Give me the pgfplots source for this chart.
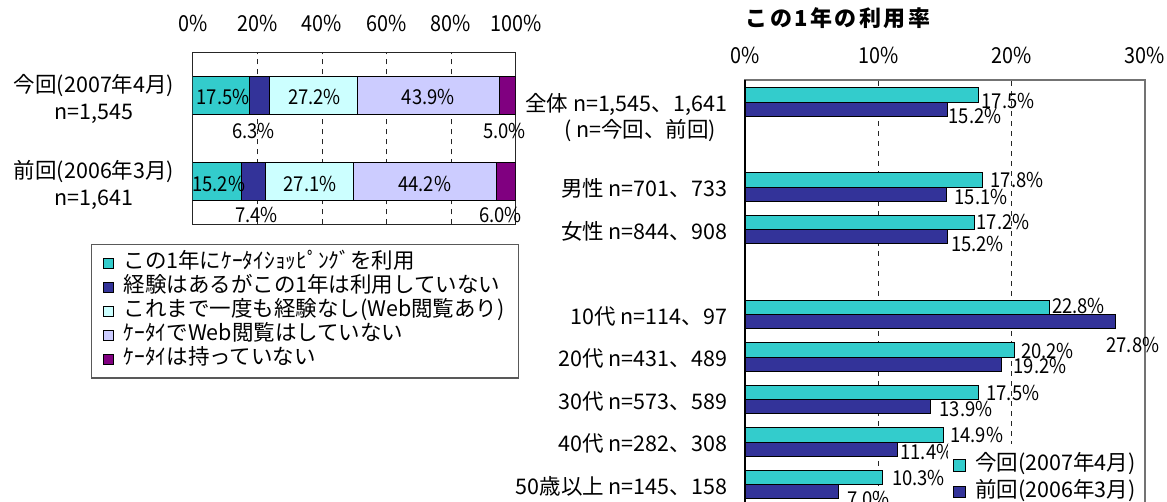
\documentclass[border=0pt]{standalone}
\usepackage{fontspec}
\setmainfont{Noto Sans CJK JP}
\newfontfamily\narrow{Noto Sans CJK JP}[FakeStretch=0.9]
\usepackage{pgfplots}
\pgfplotsset{compat=1.18}
\usepackage{pgfplotstable}
\pgfkeys{/pgf/number format/assume math mode=true}

\definecolor{cA}{HTML}{33CCCC}
\definecolor{cB}{HTML}{333399}
\definecolor{cC}{HTML}{CCFFFF}
\definecolor{cD}{HTML}{CCCCFF}
\definecolor{cE}{HTML}{800080}

\newcommand\mainfont{\fontsize{21.5}{27}\selectfont}
\newcommand\tickfont{\narrow\fontsize{22}{26}\selectfont}
\newcommand\lblfont{\narrow\fontsize{20.5}{24}\selectfont}

% left stacked chart (y=1: 2007, y=0: 2006); dx,dy = label offsets (pt) from segment middle
\pgfplotstableread{
y v dx dy
1 17.5 2 -2
0 15.2 1.5 -3
}\sA
\pgfplotstableread{
y v dx dy
1 6.3 -6 -36
0 7.4 2.7 -33.5
}\sB
\pgfplotstableread{
y v dx dy
1 27.2 1 -2
0 27.1 0.7 -3
}\sC
\pgfplotstableread{
y v dx dy
1 43.9 0 -2
0 44.2 0 -3
}\sD
\pgfplotstableread{
y v dx dy
1 5.0 -3 -36
0 6.0 -5 -33.5
}\sE

% right chart; dx,dy = label offsets (pt) from bar end
\pgfplotstableread{
y v dx dy
9 17.5 3 -6
7 17.8 8 0
6 17.2 2 0
4 22.8 2.7 1
3 20.2 6.4 -1
2 17.5 7.7 -1
1 14.9 6.3 0
0 10.3 9.4 -1
}\now
\pgfplotstableread{
y v dx dy
9 15.2 0.5 -6.5
7 15.1 8 -3
6 15.2 3 -7
4 27.8 -9.6 -23
3 19.2 12.3 -1.7
2 13.9 9 -2.5
1 11.4 3 -3
0 7.0 8.4 -7
}\prev

\pgfplotsset{
  lbl/.style={
    visualization depends on={\thisrow{dx}\as\dx},
    visualization depends on={\thisrow{dy}\as\dy},
    point meta=explicit,
    nodes near coords={\pgfmathprintnumber[fixed,fixed zerofill,precision=1,assume math mode=true]{\pgfplotspointmeta}\%},
    every node near coord/.append style={anchor=#1, inner sep=0pt, xshift=\dx pt, yshift=\dy pt, font=\lblfont, text=black},
  },
  sq/.style={legend image code/.code={\draw[##1,draw=black,line width=0.8pt] (0pt,-#1/2) rectangle (#1,#1/2);}},
}

\begin{document}
\begin{tikzpicture}[font=\mainfont]
\useasboundingbox (0,0) rectangle (1167pt,-501pt);

\begin{axis}[
  at={(192.7pt,-52.3pt)}, anchor=north west,
  scale only axis, width=323pt, height=172pt,
  xbar stacked, bar width=0.44,
  xmin=0, xmax=100, ymin=-0.5, ymax=1.5,
  xtick={0,20,40,60,80,100}, xticklabels={0\%,20\%,40\%,60\%,80\%,100\%},
  xticklabel pos=upper,
  xticklabel style={anchor=base, yshift=20.6pt, font=\tickfont},
  ytick={0,1},
  yticklabels={{前回(2006年3月)\\n=1,641},{今回(2007年4月)\\n=1,545}},
  yticklabel style={align=center, anchor=east, xshift=-15pt, yshift=-4pt, font=\mainfont},
  major tick length=0pt,
  xmajorgrids, grid style={black!85, dash pattern=on 5pt off 5pt, line width=0.8pt},
  axis line style={black!85, line width=1.2pt},
  legend style={at={(axis cs:-31.6,-0.729)}, anchor=north west, draw=black!65, line width=1.2pt,
    font=\mainfont, inner xsep=12pt, inner ysep=6.7pt, row sep=0pt,
    nodes={inner sep=1.5pt, text height=16pt, text depth=5pt},
    /tikz/every odd column/.append style={column sep=8pt}},
  legend cell align=left,
  sq=10pt,
]
\addplot[fill=cA, draw=black, line width=0.8pt, lbl=center] table[x=v,y=y,meta=v]{\sA};
\addplot[fill=cB, draw=black, line width=0.8pt, lbl=center] table[x=v,y=y,meta=v]{\sB};
\addplot[fill=cC, draw=black, line width=0.8pt, lbl=center] table[x=v,y=y,meta=v]{\sC};
\addplot[fill=cD, draw=black, line width=0.8pt, lbl=center] table[x=v,y=y,meta=v]{\sD};
\addplot[fill=cE, draw=black, line width=0.8pt, lbl=center] table[x=v,y=y,meta=v]{\sE};
\legend{この1年にｹｰﾀｲｼｮｯﾋﾟﾝｸﾞを利用, 経験はあるがこの1年は利用していない, これまで一度も経験なし(Web閲覧あり), ｹｰﾀｲでWeb閲覧はしていない, ｹｰﾀｲは持っていない}
\end{axis}

\node[font=\bfseries\fontsize{22}{26}\selectfont\addfontfeature{LetterSpace=11}] at (838pt,-18pt) {この1年の利用率};

\begin{axis}[
  at={(745pt,-80pt)}, anchor=north west,
  scale only axis, width=400pt, height=425.8pt,
  xbar, bar width=0.336,
  xmin=0, xmax=30, ymin=-0.5, ymax=9.518,
  xtick={0,10,20,30}, xticklabels={0\%,10\%,20\%,30\%},
  xticklabel pos=upper,
  xticklabel style={anchor=base, yshift=16.7pt, font=\tickfont},
  ytick={0,1,2,3,4,6,7,9},
  yticklabels={50歳以上 n=145、158, 40代 n=282、308, 30代 n=573、589, 20代 n=431、489, 10代 n=114、97, 女性 n=844、908, 男性 n=701、733, {全体 n=1,545、1,641}},
  yticklabel style={anchor=base east, yshift=-9.5pt, xshift=-14.5pt, font=\mainfont},
  extra y ticks={8.389}, extra y tick labels={( n=今回、前回)},
  extra y tick style={yticklabel style={xshift=-11pt}},
  major tick length=0pt,
  xmajorgrids, grid style={black!85, dash pattern=on 5pt off 5pt, line width=0.8pt},
  extra x ticks={0}, extra x tick labels={},
  extra x tick style={grid=major, major grid style={solid, black, line width=1.3pt}},
  axis line style={black!55, line width=1.2pt},
  legend style={at={(axis cs:15.23,0.953)}, anchor=north west, draw=none, fill=white,
    font=\mainfont, inner xsep=5pt, inner ysep=9.2pt, row sep=2.5pt,
    nodes={inner sep=1.5pt, text height=16pt, text depth=5pt},
    /tikz/every odd column/.append style={column sep=8pt}},
  legend cell align=left,
  sq=11.7pt,
]
\addplot[fill=cA, draw=black, line width=0.8pt, bar shift=0.168, lbl=west] table[x=v,y=y,meta=v]{\now};
\addplot[fill=cB, draw=black, line width=0.8pt, bar shift=-0.168, lbl=west] table[x=v,y=y,meta=v]{\prev};
\legend{今回(2007年4月), 前回(2006年3月)}
\end{axis}
\end{tikzpicture}
\end{document}
